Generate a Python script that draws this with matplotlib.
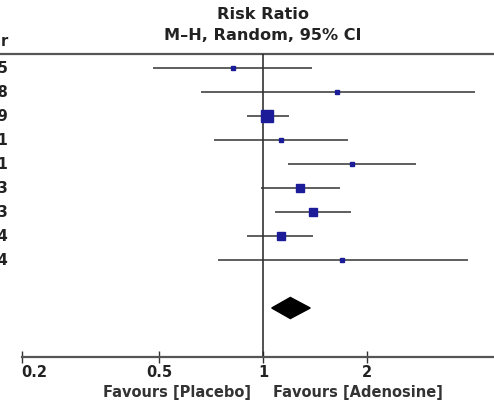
import numpy as np
import matplotlib
matplotlib.use("Agg")
import matplotlib.pyplot as plt
from matplotlib.patches import Polygon
import matplotlib.transforms as mtransforms

# ---- data ----
years = ["2005", "2008", "2009", "2011", "2011", "2013", "2013", "2014", "2014"]
rr = [0.82, 1.64, 1.03, 1.13, 1.81, 1.28, 1.40, 1.13, 1.69]
ci_low = [0.48, 0.66, 0.90, 0.72, 1.18, 0.99, 1.08, 0.90, 0.74]
ci_high = [1.39, 4.11, 1.19, 1.76, 2.77, 1.67, 1.80, 1.40, 3.92]
weights = [3.7, 3.7, 28.3, 5.8, 5.8, 15.0, 15.0, 18.9, 3.7]
pooled = [1.20, 1.06, 1.37]  # estimate, low, high
xticks = [0.2, 0.5, 1, 2, 5]
xtick_labels = ["0.2", "0.5", "1", "2", "5"]

W, H = 494, 404
fig = plt.figure(figsize=(W / 100, H / 100), dpi=100)
ax_bottom_px = 357
ax = fig.add_axes([0, (H - ax_bottom_px) / H, 1, ax_bottom_px / H])
ax.set_xscale("log")
ax.set_xticks(xticks)
ax.set_xticklabels(xtick_labels)
ax.xaxis.set_minor_locator(matplotlib.ticker.NullLocator())
x0 = 2 ** (-263 / 104)
x1 = 2 ** ((W - 263) / 104)
ax.set_xlim(x0, x1)
row0_px, row_step = 68, 24
ax.set_ylim((ax_bottom_px - row0_px) / row_step, -row0_px / row_step)

for s in ["top", "left", "right"]:
    ax.spines[s].set_visible(False)
ax.spines["bottom"].set_color("#555555")
ax.spines["bottom"].set_linewidth(1.6)
ax.spines["bottom"].set_bounds(0.2, 5)
ax.set_yticks([])
ax.tick_params(axis="x", direction="inout", length=8, width=1.0, color="#333333",
               labelsize=10.5, pad=2, labelcolor="#222222")
for lab in ax.get_xticklabels():
    lab.set_fontweight("bold")
ax.get_xticklabels()[0].set_horizontalalignment("left")

header_y = (54 - row0_px) / row_step
ax.axhline(header_y, color="#555555", lw=1.6)
ybot = (ax_bottom_px - row0_px) / row_step
ax.vlines(1, header_y, ybot, color="#222222", lw=1.1)

n = len(rr)
ys = np.arange(n)
for i in range(n):
    ax.hlines(ys[i], ci_low[i], ci_high[i], color="#333333", lw=1.1)
sizes = [2.07 * np.sqrt(w) / 1.389 for w in weights]
for i in range(n):
    ax.plot(rr[i], ys[i], marker="s", ms=sizes[i], color="#1c1c99", mec="#1c1c99", lw=0)

dy = (308 - row0_px) / row_step
h = 0.44
est, lo, hi = pooled
diamond = Polygon([[lo, dy], [est, dy - h], [hi, dy], [est, dy + h]], closed=True,
                  facecolor="black", edgecolor="black")
ax.add_patch(diamond)

# year labels (cropped at left edge)
trans = mtransforms.blended_transform_factory(ax.transAxes, ax.transData)
xl = 8.5 / W
for i in range(n):
    ax.text(xl, ys[i], years[i], ha="right", va="center", fontsize=10.5,
            fontweight="bold", color="#222222", transform=trans)
ax.text(xl, (41 - row0_px) / row_step, "Year", ha="right", va="center", fontsize=10.5,
        fontweight="bold", color="#222222", transform=trans)

# header
ax.text(1, (14 - row0_px) / row_step, "Risk Ratio", ha="center", va="center",
        fontsize=11.6, fontweight="bold", color="#222222")
ax.text(1, (35 - row0_px) / row_step, "M\u2013H, Random, 95% CI", ha="center", va="center",
        fontsize=11.6, fontweight="bold", color="#222222")

# favours labels
fig.text(251 / W, 1 - 393 / H, "Favours [Placebo]", ha="right", va="center",
         fontsize=10.5, fontweight="bold", color="#333333")
fig.text(273 / W, 1 - 393 / H, "Favours [Adenosine]", ha="left", va="center",
         fontsize=10.5, fontweight="bold", color="#333333")

fig.savefig("out.png", dpi=100)
